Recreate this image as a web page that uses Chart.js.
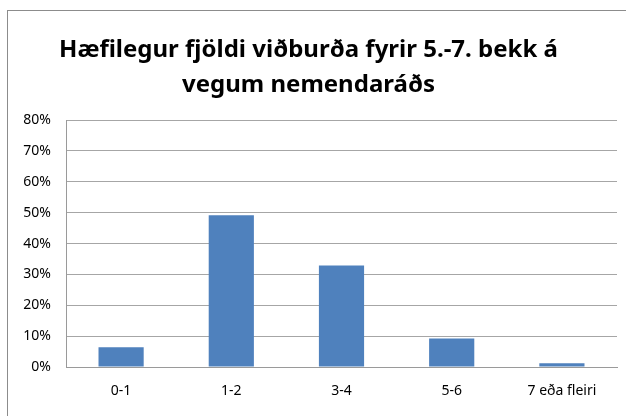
<!DOCTYPE html>
<html>
<head>
<meta charset="utf-8">
<script src="https://cdn.jsdelivr.net/npm/chart.js@4"></script>
<style>
    body { margin: 0; background: #fff; }
    #wrap { position: relative; width: 626px; height: 416px; overflow: hidden; }
    #frame { position: absolute; left: 7px; top: 10px; width: 640px; height: 430px; border: 1px solid #8c8c8c; }
    canvas { position: absolute; left: 0; top: 0; }
</style>
</head>
<body>
<div id="wrap">
    <div id="frame"></div>
    <canvas id="chart" width="626" height="416"></canvas>
</div>
<script>
const titleLines = ['Hæfilegur fjöldi viðburða fyrir 5.-7. bekk á', 'vegum nemendaráðs'];
const categories = ['0-1', '1-2', '3-4', '5-6', '7 eða fleiri'];
const shares = [6.4, 49.2, 32.9, 9.2, 1.2];
const yTicks = [0, 10, 20, 30, 40, 50, 60, 70, 80];

const ctx = document.getElementById('chart');

new Chart(ctx, {
    type: 'bar',
    data: {
        labels: categories,
        datasets: [{
            data: shares,
            backgroundColor: '#4f81bd',
            borderWidth: 0,
            barPercentage: 0.41,
            categoryPercentage: 1
        }]
    },
    options: {
        responsive: false,
        animation: false,
        layout: { padding: { left: 0, right: 9, top: 10, bottom: 0 } },
        plugins: {
            legend: { display: false },
            tooltip: { enabled: false },
            title: {
                display: true,
                text: titleLines,
                color: '#000',
                font: { family: 'Noto Sans', size: 24, weight: 'bold', lineHeight: 1.46 },
                padding: { top: 23, bottom: 17 }
            }
        },
        scales: {
            x: {
                grid: { display: false, drawTicks: false },
                border: { color: '#9a9a9a', width: 1 },
                ticks: {
                    color: '#000',
                    font: { family: 'Noto Sans', size: 14 },
                    padding: 16
                },
                afterFit: (scale) => { scale.height = 49; }
            },
            y: {
                min: 0,
                max: 80,
                afterBuildTicks: (scale) => { scale.ticks = yTicks.map(v => ({ value: v })); },
                grid: { color: '#a6a6a6', drawTicks: false },
                border: { color: '#9a9a9a', width: 1 },
                ticks: {
                    color: '#000',
                    font: { family: 'Noto Sans', size: 14 },
                    padding: 15,
                    callback: (v) => v + '%'
                },
                afterFit: (scale) => { scale.width = 66; }
            }
        }
    }
});
</script>
</body>
</html>
